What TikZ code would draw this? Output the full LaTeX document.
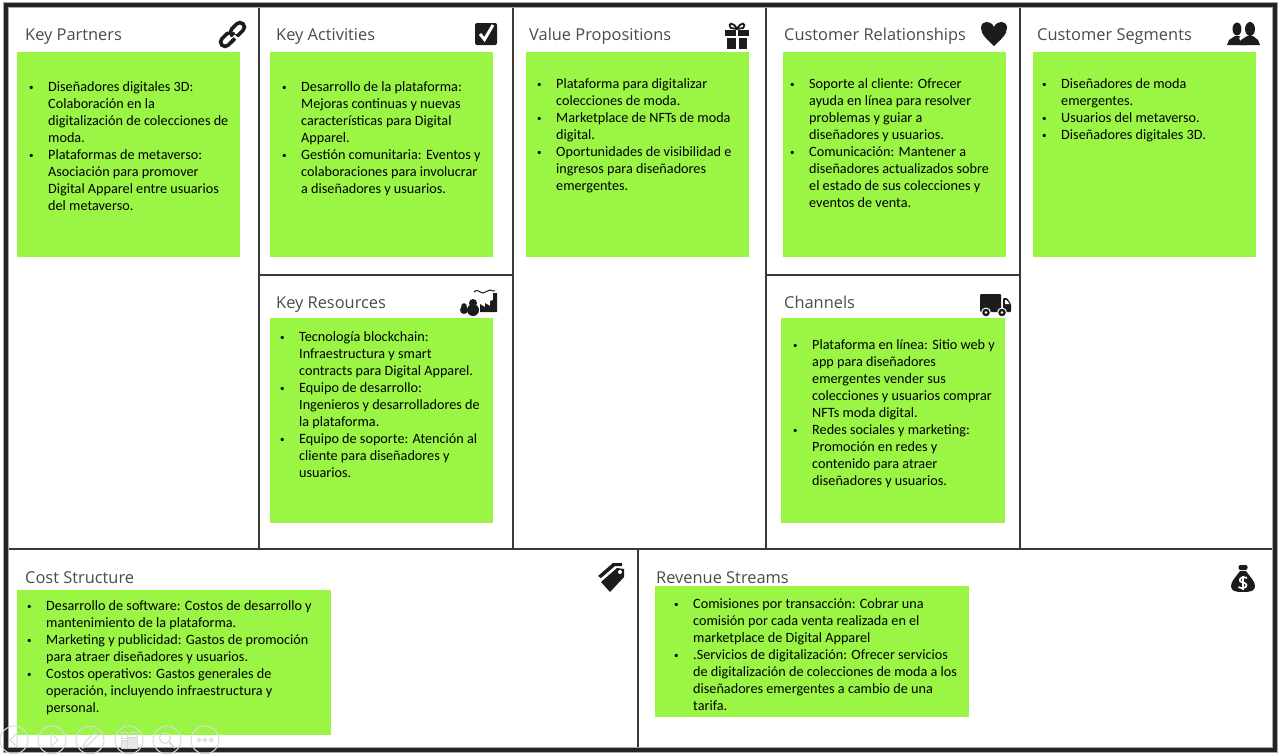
\documentclass[tikz,border=0pt]{standalone}
\usepackage{fontspec}
\usepackage{xcolor}
\usetikzlibrary{positioning}
\setmainfont{Carlito}
\newfontfamily\titlefont{Open Sans}
\definecolor{noteGreen}{RGB}{154,245,69}
\definecolor{frameDark}{RGB}{35,35,35}
\definecolor{titleGray}{RGB}{75,75,75}
\definecolor{iconBlack}{RGB}{28,28,28}
\newcommand{\bul}{\makebox[17pt][l]{\hspace*{-2pt}\raisebox{1pt}{\fontsize{9}{9}\selectfont\textbullet}}}
\newcommand{\ind}{\hspace*{17pt}}

\tikzset{
    linkicon/.pic={
        \draw[iconBlack, line width=3.6pt, rounded corners=4.5pt, rotate=45] (-15,-4.5) rectangle (1,4.5);
        \draw[white, line width=6pt, rotate=45] (-1,-4.5) -- (3,-4.5);
        \draw[iconBlack, line width=3.6pt, rounded corners=4.5pt, rotate=45] (-1,-4.5) rectangle (15,4.5);
        \draw[white, line width=5.5pt, rotate=45] (-3,4.5) -- (1.5,4.5);
        \draw[iconBlack, line width=3.6pt, rotate=45] (-7,4.5) -- (-1,4.5);
    },
    checkicon/.pic={
        \fill[iconBlack, rounded corners=2pt] (-11,-11) rectangle (11,11);
        \draw[white, line width=3pt] (-6,0) -- (-1.5,5.5) -- (7,-9);
    },
    gifticon/.pic={
        \fill[iconBlack] (-12,-5) rectangle (12,1);
        \fill[iconBlack] (-10,3) rectangle (-1.5,14);
        \fill[iconBlack] (1.5,3) rectangle (10,14);
        \fill[white] (-1.2,-5) rectangle (1.2,1);
        \draw[iconBlack, line width=1.8pt] (0,-6) .. controls (-4,-14) and (-10,-12) .. (-6,-7) -- (0,-6)
            .. controls (4,-14) and (10,-12) .. (6,-7) -- (0,-6);
    },
    hearticon/.pic={
        \fill[iconBlack] (0,13) .. controls (-6,7) and (-13,2) .. (-13,-5)
            .. controls (-13,-13) and (-3,-13) .. (0,-6)
            .. controls (3,-13) and (13,-13) .. (13,-5)
            .. controls (13,2) and (6,7) .. (0,13) -- cycle;
    },
    peopleicon/.pic={
        \fill[iconBlack] (-7,-5) ellipse (4.5 and 6.5);
        \fill[iconBlack] (-17,11) -- (-15,6) -- (-9,2) -- (-5,2) -- (1,6) -- (3,11) -- cycle;
        \fill[white] (-2.5,-12) rectangle (1,3) (-5,4) -- (-1,1) -- (3,4) -- (-1,11) -- cycle;
        \fill[iconBlack] (6,-5) ellipse (5 and 7);
        \fill[iconBlack] (-5,11) -- (-3,6) -- (3,2) -- (9,2) -- (14,6) -- (16,11) -- cycle;
    },
    factoryicon/.pic={
        \fill[iconBlack] (1,9) -- (1,1) -- (6,4) -- (6,0) -- (11,3) -- (11,-2) -- (14,-3) -- (14,-10) -- (18,-10) -- (18,9) -- cycle;
        \draw[iconBlack, line width=1pt] (-5,-11) .. controls (-2,-15) and (1,-10) .. (4,-10) .. controls (7,-10) and (8,-13) .. (11,-13) .. controls (13,-13) and (14,-11) .. (16,-12);
        \fill[iconBlack] (-6,0) circle (4);
        \fill[iconBlack] (-6,7) ellipse (6 and 6);
        \fill[iconBlack] (-15,3) circle (2.8);
        \fill[iconBlack] (-15,7) ellipse (4 and 4);
    },
    truckicon/.pic={
        \fill[iconBlack, rounded corners=1pt] (-15,-11) rectangle (6,7);
        \fill[iconBlack, rounded corners=1pt] (8,-7) -- (12,-7) -- (16,-1) -- (16,7) -- (8,7) -- cycle;
        \fill[white] (10,-5) -- (11.5,-5) -- (14.5,-1) -- (10,-1) -- cycle;
        \fill[white] (-9,7.5) circle (5) (7,7.5) circle (5);
        \fill[iconBlack] (-9,7.5) circle (3.8) (7,7.5) circle (3.8);
        \fill[white] (-9,7.5) circle (1.3) (7,7.5) circle (1.3);
    },
    tagicon/.pic={
        \fill[iconBlack] (-10,7) -- (6,-7) -- (13,-6) -- (13,2) -- (-1,17) -- cycle;
        \fill[iconBlack] (-13,1) -- (2,-12) -- (11,-12) -- (11,-9) -- (4,-9) -- (-10,3) -- cycle;
        \fill[white] (9,-3) circle (2);
    },
    bagicon/.pic={
        \fill[iconBlack] (-3,-6) .. controls (-7,0) and (-12,4) .. (-12,9) .. controls (-12,14) and (-8,15) .. (0,15)
            .. controls (8,15) and (12,14) .. (12,9) .. controls (12,4) and (7,0) .. (3,-6) -- cycle;
        \fill[iconBlack, rounded corners=2pt] (-4.5,-12) rectangle (4.5,-7);
        \draw[white, line width=1.7pt] (4,1) .. controls (0,-1) and (-4,1) .. (-3,4) .. controls (-2,6) and (3,5) .. (3.5,8) .. controls (4,11) and (-2,12) .. (-4.5,10);
        \draw[white, line width=1.2pt] (0,-1) -- (0,13);
    }
}

\begin{document}
\begin{tikzpicture}[
    x=1pt, y=-1pt,
    noteBox/.style={fill=noteGreen, inner sep=0pt, anchor=north west},
    note/.style={noteBox, minimum width=223pt, minimum height=205pt},
    wideNote/.style={noteBox, minimum width=314pt},
    noteText/.style={inner sep=0pt, anchor=north west, align=left, text=black, font=\fontsize{14.2}{17}\selectfont},
    cellTitle/.style={inner sep=0pt, anchor=base west, text=titleGray, font=\titlefont\fontsize{16.4}{17}\selectfont},
    outerEdge/.style={draw=gray!70, line width=6pt},
    outerLine/.style={draw=frameDark, line width=4pt},
    cellLine/.style={draw=frameDark!90, line width=2.4pt},
    ctrlBtn/.style={circle, draw=gray!28, line width=1pt, minimum size=28pt, inner sep=0pt},
    ctrlIcon/.style={draw=gray!32, line width=1pt}
]
\useasboundingbox (0,0) rectangle (1279,755);
\fill[white] (0,0) rectangle (1279,755);

% Canvas lines
\draw[cellLine] (259,5) -- (259,549);
\draw[cellLine] (513,5) -- (513,549);
\draw[cellLine] (766,5) -- (766,549);
\draw[cellLine] (1020,5) -- (1020,549);
\draw[cellLine] (259,275) -- (513,275);
\draw[cellLine] (766,275) -- (1020,275);
\draw[cellLine] (6,549) -- (1276,549);
\draw[cellLine] (638,549) -- (638,750);
\draw[outerEdge] (6,5) rectangle (1275,750);
\draw[outerLine] (6,5) rectangle (1275,750);

% Titles
\node[cellTitle] (kpTitle) at (25,40.3) {Key Partners};
\node[cellTitle] (kaTitle) at (276,40.3) {Key Activities};
\node[cellTitle] (vpTitle) at (529,40.3) {Value Propositions};
\node[cellTitle] (crTitle) at (784,40.3) {Customer Relationships};
\node[cellTitle] (csTitle) at (1037,40.3) {Customer Segments};
\node[cellTitle] (krTitle) at (276,308.3) {Key Resources};
\node[cellTitle] (chTitle) at (784,308.3) {Channels};
\node[cellTitle] (costTitle) at (25,583.3) {Cost Structure};
\node[cellTitle] (revTitle) at (656,583.3) {Revenue Streams};

% Icons
\pic at (232.5,34.5) {linkicon};
\pic at (486,34) {checkicon};
\pic at (737,35) {gifticon};
\pic at (994,33) {hearticon};
\pic at (1244,34) {peopleicon};
\pic at (479,303) {factoryicon};
\pic at (995,305) {truckicon};
\pic at (611,575) {tagicon};
\pic at (1243,577) {bagicon};

% Green notes
\node[note] (kpNote) at (17,52) {};
\node[note] (kaNote) at (270,52) {};
\node[note] (vpNote) at (526,52) {};
\node[note] (crNote) at (783,52) {};
\node[note] (csNote) at (1033,52) {};
\node[note] (krNote) at (270,318) {};
\node[note, minimum width=224pt] (chNote) at (781,318) {};
\node[wideNote, minimum height=145pt] (costNote) at (17,590) {};
\node[wideNote, minimum height=131pt] (revNote) at (655,586) {};

% Note texts
\node[noteText, below right=29.5pt and 14pt of kpNote.north west] (kpText) {%
\bul Diseñadores digitales 3D:\\
\ind Colaboración en la\\
\ind digitalización de colecciones de\\
\ind moda.\\
\bul Plataformas de metaverso:\\
\ind Asociación para promover\\
\ind Digital Apparel entre usuarios\\
\ind del metaverso.};
\node[noteText, below right=29.5pt and 14pt of kaNote.north west] (kaText) {%
\bul Desarrollo de la plataforma:\\
\ind Mejoras continuas y nuevas\\
\ind características para Digital\\
\ind Apparel.\\
\bul Gestión comunitaria: Eventos y\\
\ind colaboraciones para involucrar\\
\ind a diseñadores y usuarios.};
\node[noteText, below right=26.5pt and 13pt of vpNote.north west] (vpText) {%
\bul Plataforma para digitalizar\\
\ind colecciones de moda.\\
\bul Marketplace de NFTs de moda\\
\ind digital.\\
\bul Oportunidades de visibilidad e\\
\ind ingresos para diseñadores\\
\ind emergentes.};
\node[noteText, below right=26.5pt and 9pt of crNote.north west] (crText) {%
\bul Soporte al cliente: Ofrecer\\
\ind ayuda en línea para resolver\\
\ind problemas y guiar a\\
\ind diseñadores y usuarios.\\
\bul Comunicación: Mantener a\\
\ind diseñadores actualizados sobre\\
\ind el estado de sus colecciones y\\
\ind eventos de venta.};
\node[noteText, below right=26.5pt and 11pt of csNote.north west] (csText) {%
\bul Diseñadores de moda\\
\ind emergentes.\\
\bul Usuarios del metaverso.\\
\bul Diseñadores digitales 3D.};
\node[noteText, below right=13.5pt and 12pt of krNote.north west] (krText) {%
\bul Tecnología blockchain:\\
\ind Infraestructura y smart\\
\ind contracts para Digital Apparel.\\
\bul Equipo de desarrollo:\\
\ind Ingenieros y desarrolladores de\\
\ind la plataforma.\\
\bul Equipo de soporte: Atención al\\
\ind cliente para diseñadores y\\
\ind usuarios.};
\node[noteText, below right=21.5pt and 14pt of chNote.north west] (chText) {%
\bul Plataforma en línea: Sitio web y\\
\ind app para diseñadores\\
\ind emergentes vender sus\\
\ind colecciones y usuarios comprar\\
\ind NFTs moda digital.\\
\bul Redes sociales y marketing:\\
\ind Promoción en redes y\\
\ind contenido para atraer\\
\ind diseñadores y usuarios.};
\node[noteText, below right=10.5pt and 12pt of costNote.north west] (costText) {%
\bul Desarrollo de software: Costos de desarrollo y\\
\ind mantenimiento de la plataforma.\\
\bul Marketing y publicidad: Gastos de promoción\\
\ind para atraer diseñadores y usuarios.\\
\bul Costos operativos: Gastos generales de\\
\ind operación, incluyendo infraestructura y\\
\ind personal.};
\node[noteText, below right=12.5pt and 21pt of revNote.north west] (revText) {%
\bul Comisiones por transacción: Cobrar una\\
\ind comisión por cada venta realizada en el\\
\ind marketplace de Digital Apparel\\
\bul .Servicios de digitalización: Ofrecer servicios\\
\ind de digitalización de colecciones de moda a los\\
\ind diseñadores emergentes a cambio de una\\
\ind tarifa.};

% Slideshow controls
\node[ctrlBtn] (btnBack) at (14,740) {};
\node[ctrlBtn] (btnNext) at (52,740) {};
\node[ctrlBtn] (btnPen) at (90,740) {};
\node[ctrlBtn] (btnGrid) at (129,740) {};
\node[ctrlBtn] (btnZoom) at (167,740) {};
\node[ctrlBtn] (btnMore) at (205,740) {};
\draw[ctrlIcon] (17,733) -- (10,740) -- (17,747) -- cycle;
\draw[ctrlIcon] (51,733) -- (58,740) -- (51,747) -- cycle;
\draw[ctrlIcon] (83,748) -- (85,742) -- (95,732) -- (98,735) -- (88,745) -- cycle;
\draw[ctrlIcon] (121,732) rectangle (127,738) (130,732) rectangle (137,738);
\draw[ctrlIcon, fill=gray!18] (121,740) rectangle (127,748) (127,737) rectangle (137,748);
\draw[ctrlIcon] (165,738) circle (5.5);
\draw[ctrlIcon, line width=1.5pt] (169,742) -- (175,748);
\draw[ctrlIcon] (199,740) circle (1.8) (205,740) circle (1.8) (211,740) circle (1.8);

\end{tikzpicture}
\end{document}
